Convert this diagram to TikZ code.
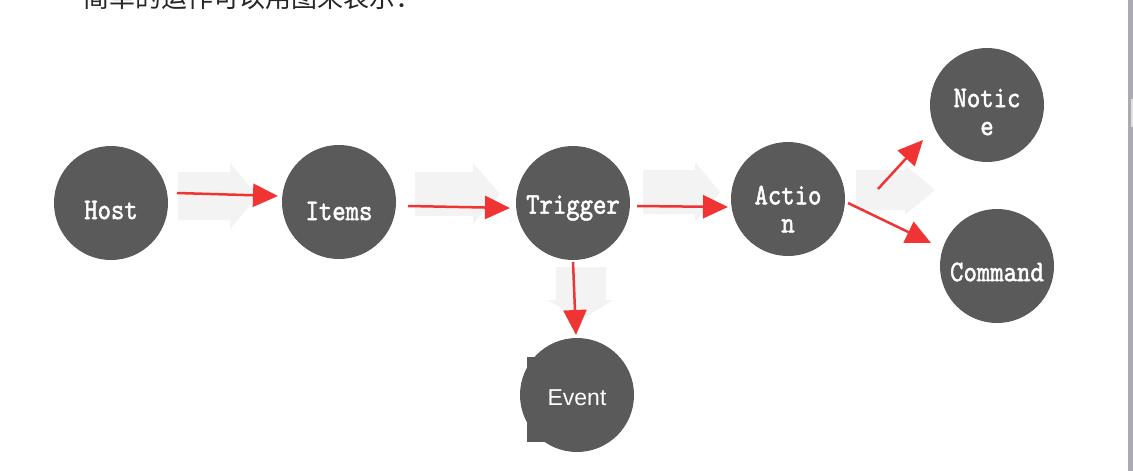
\documentclass[tikz,border=0pt]{standalone}
\usepackage{fontspec}
\newfontfamily\cjk{Noto Sans CJK SC}
\newfontfamily\monob[Extension=.otf,FakeStretch=0.85,FakeBold=1.6]{lmmono10-regular}
\newfontfamily\sansf{Liberation Sans}
\usetikzlibrary{arrows.meta,calc}
\definecolor{discgray}{HTML}{5A5A5A}
\definecolor{arrred}{HTML}{F03434}
\definecolor{faint}{HTML}{F3F3F3}
\definecolor{scrollgray}{HTML}{AAAAB2}
\tikzset{
  disc/.style={circle,fill=discgray,minimum size=114pt,inner sep=0pt},
  mlbl/.style={text=white,font=\monob\fontsize{30}{28}\selectfont,align=center,inner sep=0pt},
  slbl/.style={text=white,font=\sansf\fontsize{23}{26}\selectfont,inner sep=0pt},
  redarrow/.style={draw=arrred,line width=2.5pt,-{Triangle[length=25pt,width=23pt]}},
  ghost/.style={fill=faint,draw=none}
}
\begin{document}
\begin{tikzpicture}[x=1pt,y=-1pt]
\useasboundingbox (0,0) rectangle (1133,471);
\fill[white] (0,0) rectangle (1133,471);
% cut-off heading
\begin{scope}
\clip (0,0) rectangle (1133,471);
\node[anchor=base west,inner sep=0pt,text=black!85,font=\cjk\fontsize{26}{30}\selectfont] (head) at (83,8) {简单的运作可以用图来表示：};
\end{scope}
% faint background block arrows
\fill[ghost] (178,172) -- (230,172) -- (230,163) -- (258,196) -- (230,229) -- (230,220) -- (178,220) -- cycle;
\fill[ghost] (415,172) -- (473,172) -- (473,163) -- (500,194) -- (473,224) -- (473,216) -- (415,216) -- cycle;
\fill[ghost] (643,170) -- (695,170) -- (695,162) -- (720,192) -- (695,222) -- (695,214) -- (643,214) -- cycle;
\fill[ghost] (856,170) -- (905,170) -- (905,165) -- (935,190) -- (905,215) -- (905,210) -- (856,210) -- cycle;
\fill[ghost] (556,267) -- (606,267) -- (606,300) -- (613,300) -- (581,320) -- (548,300) -- (556,300) -- cycle;
% discs
\node[disc,label={[mlbl,yshift=-7pt]center:Host}] (host) at (111,203) {};
\node[disc,label={[mlbl,yshift=-9pt]center:Items}] (items) at (339,202) {};
\node[disc,label={[mlbl,yshift=-5pt]center:Trigger}] (trigger) at (573,203) {};
\node[disc,label={[mlbl,yshift=-10pt]center:Actio\\n}] (action) at (788,199) {};
\node[disc,label={[mlbl,yshift=-7pt]center:Notic\\e}] (notice) at (987,105) {};
\node[disc,label={[mlbl,yshift=-6pt]center:Command}] (command) at (997,266) {};
\fill[discgray] (527,357) rectangle (560,442);
\node[disc,label={[slbl,yshift=-3pt]center:Event}] (event) at (577,395) {};
% red arrows
\draw[redarrow] ($(host)+(66,-10)$) -- ($(items)+(-61,-6)$);
\draw[redarrow] ($(items)+(69,4)$) -- ($(trigger)+(-63,5)$);
\draw[redarrow] ($(trigger)+(64,3)$) -- ($(action)+(-60,8)$);
\draw[redarrow] ($(action)+(90,-10)$) -- ($(notice)+(-64,35)$);
\draw[redarrow] ($(action)+(60,4)$) -- ($(command)+(-66,-23)$);
\draw[redarrow] ($(trigger)+(0,59)$) -- ($(event)+(-1,-60)$);
% scrollbar
\fill[scrollgray] (1128,0) rectangle (1133,471);
\fill[black!12] (1131,99) rectangle (1133,127);
\end{tikzpicture}
\end{document}
